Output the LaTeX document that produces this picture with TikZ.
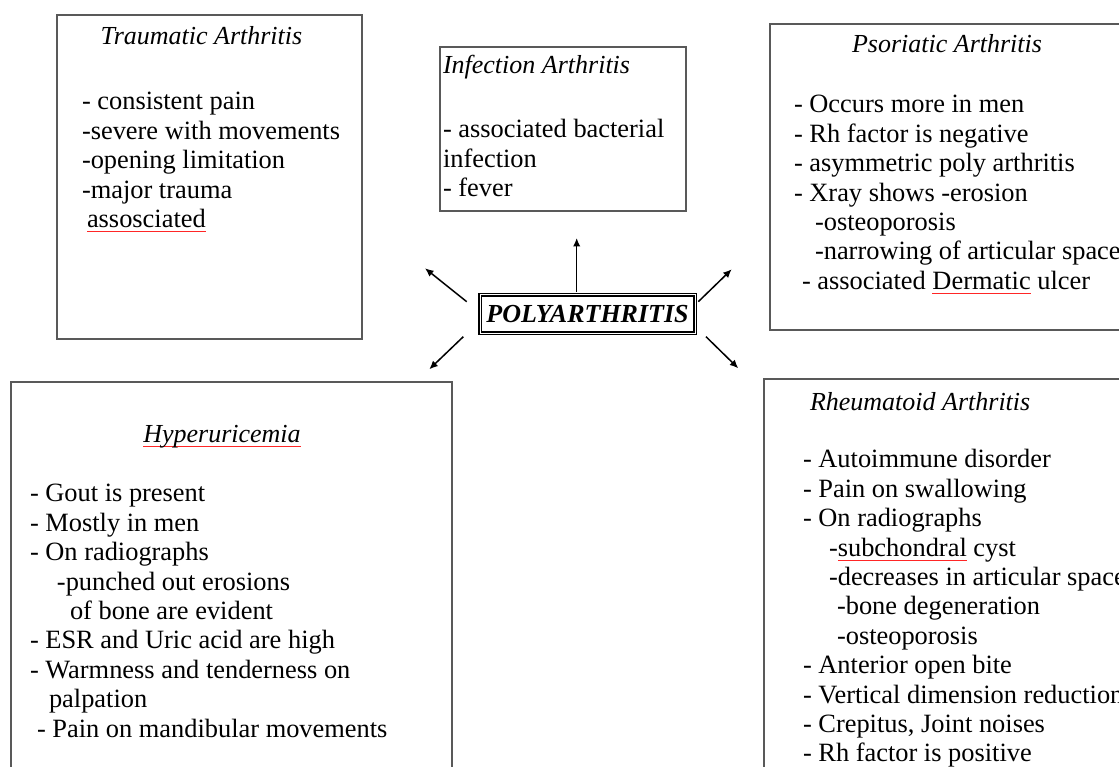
\documentclass[tikz,border=0pt]{standalone}
\usepackage{fontspec}
\setmainfont{Liberation Serif}
\usetikzlibrary{arrows.meta}
\newcommand{\txtfont}{\fontsize{26.4}{29.4}\selectfont}
\newcommand{\headfont}{\fontsize{26}{29.4}\selectfont\itshape}
\newsavebox{\spellbox}
\newcommand{\spellmark}[1]{\sbox{\spellbox}{#1}\rlap{\textcolor{red!85}{\rule[-4.5pt]{\wd\spellbox}{0.6pt}}}\usebox{\spellbox}}

\begin{document}
\begin{tikzpicture}[x=1pt, y=-1pt,
    every node/.style={font=\txtfont, inner sep=0pt, outer sep=0pt},
    box/.style={draw=black!65, line width=1.5pt, anchor=north west},
    head/.style={font=\headfont},
    items/.style={align=left, anchor=north west},
    arr/.style={-{Latex[length=8.5pt,width=7.5pt]}, line width=1.5pt}]
  \useasboundingbox (0,0) rectangle (1119,767);
  \clip (0,0) rectangle (1119,767);
  \node[box, minimum width=305pt, minimum height=324pt] (trauma_box) at (57,15) {};
  \node[box, minimum width=246pt, minimum height=164pt] (infect_box) at (440,47) {};
  \node[box, minimum width=370pt, minimum height=306pt] (psor_box) at (770,24) {};
  \node[box, minimum width=441pt, minimum height=400pt] (hyper_box) at (11,382) {};
  \node[box, minimum width=370pt, minimum height=400pt] (rheum_box) at (764,379) {};
  \node[head, anchor=base] (trauma_t) at (201.5,45) {Traumatic Arthritis};
  \node[head, anchor=base west] (infect_t) at (443,74) {Infection Arthritis};
  \node[head, anchor=base] (psor_t) at (947,53) {Psoriatic Arthritis};
  \node[head, anchor=base] (hyper_t) at (222,442) {\spellmark{Hyperuricemia}};
  \node[head, anchor=base west] (rheum_t) at (810,410) {Rheumatoid Arthritis};
  \node[items] (trauma_l) at (82,89.4) {\strut- consistent pain\\
    -severe with movements\\
    -opening limitation\\
    -major trauma\\
    \hspace*{5pt}\spellmark{assosciated}};
  \node[items] (infect_l) at (443,117.4) {\strut- associated bacterial\\
    infection\\
    - fever};
  \node[items] (psor_l) at (794,92.4) {\strut- Occurs more in men\\
    - Rh factor is negative\\
    - asymmetric poly arthritis\\
    - Xray shows -erosion\\
    \hspace*{21pt}-osteoporosis\\
    \hspace*{21pt}-narrowing of articular space\\
    \hspace*{8pt}- associated \spellmark{Dermatic} ulcer};
  \node[items] (hyper_l) at (30,481.4) {\strut- Gout is present\\
    - Mostly in men\\
    - On radiographs\\
    \hspace*{27pt}-punched out erosions\\
    \hspace*{40pt}of bone are evident\\
    - ESR and Uric acid are high\\
    - Warmness and tenderness on\\
    \hspace*{19pt}palpation\\
    \hspace*{7pt}- Pain on mandibular movements};
  \node[items] (rheum_l) at (803,447.4) {\strut- Autoimmune disorder\\
    - Pain on swallowing\\
    - On radiographs\\
    \hspace*{26pt}-\spellmark{subchondral} cyst\\
    \hspace*{26pt}-decreases in articular space\\
    \hspace*{34pt}-bone degeneration\\
    \hspace*{34pt}-osteoporosis\\
    - Anterior open bite\\
    - Vertical dimension reduction\\
    - Crepitus, Joint noises\\
    - Rh factor is positive};
  \node[draw, double, line width=1.3pt, double distance=1pt, minimum width=215pt, minimum height=38pt,
    font=\fontsize{26}{29.4}\selectfont\bfseries\itshape] (poly) at (587.5,314) {POLYARTHRITIS};
  \coordinate (up_tip) at (576.7,238);
  \coordinate (ul_tip) at (425,268.3);
  \coordinate (ur_tip) at (731.7,269.3);
  \coordinate (ll_tip) at (429.3,369.3);
  \coordinate (lr_tip) at (738.3,368.3);
  \draw[arr] ([shift={(-10.8,-3.3)}]poly.north) -- (up_tip);
  \draw[arr] ([shift={(-13.3,6.7)}]poly.north west) -- (ul_tip);
  \draw[arr] ([shift={(3.3,6.7)}]poly.north east) -- (ur_tip);
  \draw[arr] ([shift={(-16.7,3.7)}]poly.south west) -- (ll_tip);
  \draw[arr] ([shift={(11,3.7)}]poly.south east) -- (lr_tip);
\end{tikzpicture}
\end{document}
